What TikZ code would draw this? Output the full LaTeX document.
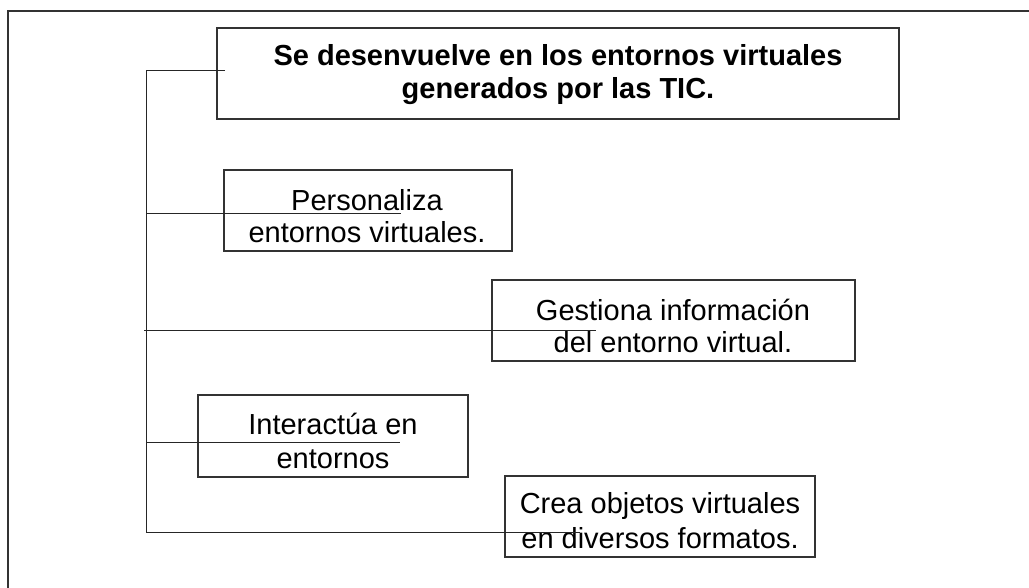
\documentclass[tikz,border=0pt]{standalone}
\usepackage{fontspec}
\setmainfont{Liberation Sans}
\begin{document}
\begin{tikzpicture}[x=1pt,y=-1pt,
  frame/.style={draw=black!80, line width=2pt},
  boxstyle/.style={draw=black!80, line width=1.5pt, rectangle, inner sep=0pt},
  conn/.style={draw=black!85, line width=1pt},
  txt/.style={anchor=base, inner sep=0pt, font=\fontsize{29}{32}\selectfont},
  btxt/.style={txt, font=\fontsize{29}{32}\selectfont\bfseries}]
\useasboundingbox (0,0) rectangle (1029,587);
% outer frame (left and top edges visible)
\draw[frame] (8,590) -- (8,11) -- (1032,11);
% boxes
\node[boxstyle, minimum width=682pt, minimum height=91pt] (b0) at (558,73.5) {};
\node[boxstyle, minimum width=288pt, minimum height=81pt] (b1) at (368,210.5) {};
\node[boxstyle, minimum width=363pt, minimum height=81pt] (b2) at (673.5,320.5) {};
\node[boxstyle, minimum width=270pt, minimum height=82pt] (b3) at (333,436) {};
\node[boxstyle, minimum width=310pt, minimum height=81pt] (b4) at (660,516.5) {};
% texts
\node[btxt] (t0a) at (558,65) {Se desenvuelve en los entornos virtuales};
\node[btxt] (t0b) at (558,98) {generados por las TIC.};
\node[txt] (t1a) at (367,210) {Personaliza};
\node[txt] (t1b) at (367,242) {entornos virtuales.};
\node[txt] (t2a) at (673,320) {Gestiona información};
\node[txt] (t2b) at (673,352) {del entorno virtual.};
\node[txt] (t3a) at (333,434) {Interactúa en};
\node[txt] (t3b) at (333,468) {entornos};
\node[txt] (t4a) at (660,513) {Crea objetos virtuales};
\node[txt] (t4b) at (660,548) {en diversos formatos.};
% connector ends and junctions
\coordinate (e0) at (225,70);
\coordinate (top) at (146.5,70);
\coordinate (bot) at (146.5,532);
\coordinate (e4) at (580,532);
\coordinate (j1) at (146.5,213);
\coordinate (e1) at (401,213);
\coordinate (j2) at (144,330);
\coordinate (e2) at (596,330);
\coordinate (j3) at (146.5,442);
\coordinate (e3) at (400,442);
% connectors
\draw[conn] (e0) -- (top) -- (bot) -- (e4);
\draw[conn] (j1) -- (e1);
\draw[conn] (j2) -- (e2);
\draw[conn] (j3) -- (e3);
\end{tikzpicture}
\end{document}
